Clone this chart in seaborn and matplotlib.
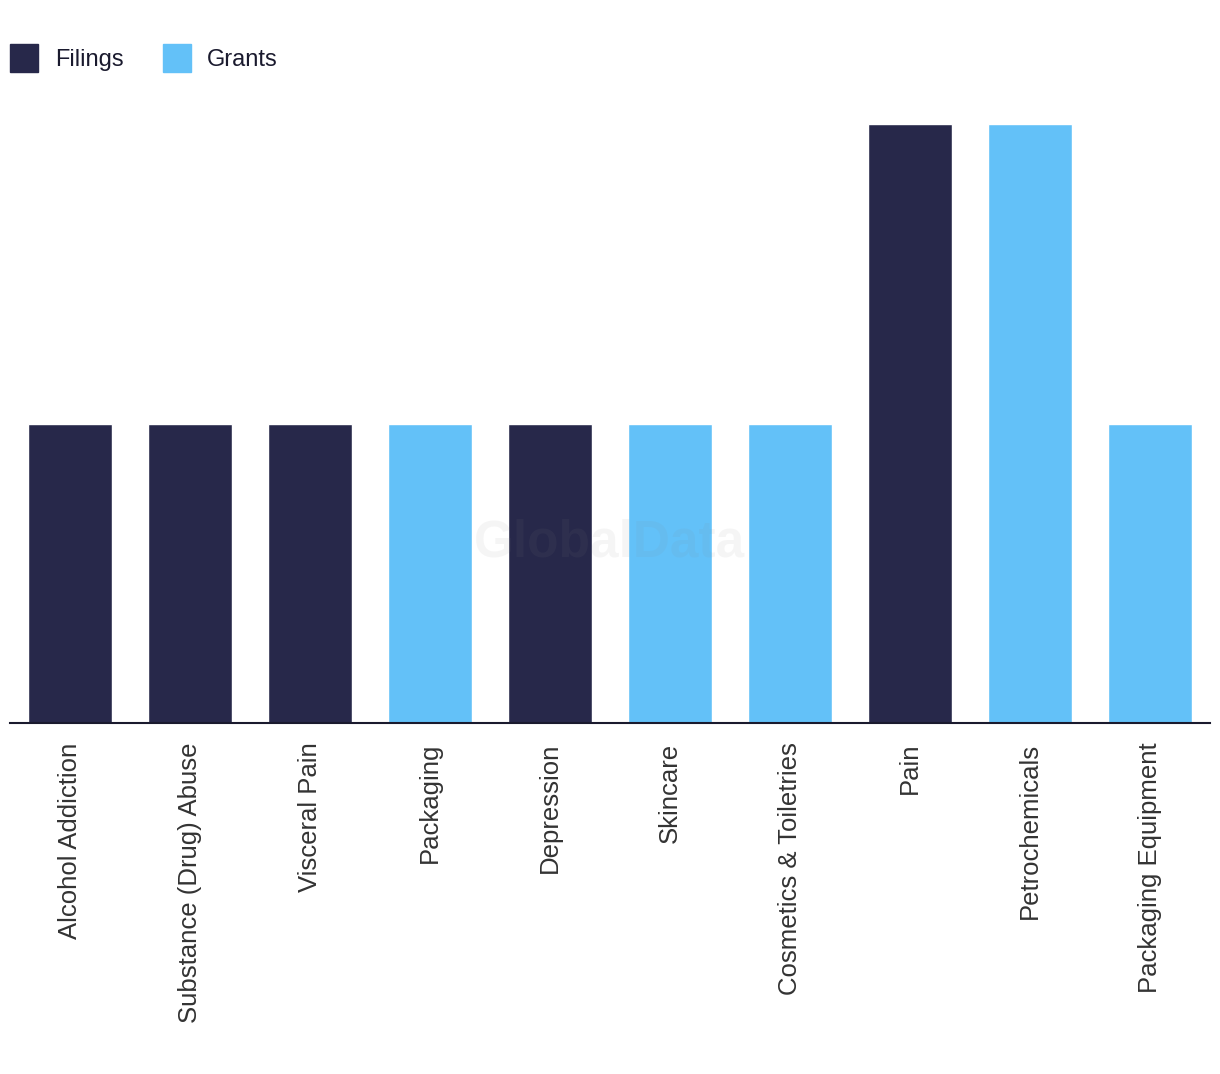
import pandas as pd
import matplotlib.pyplot as plt
import seaborn as sns
from matplotlib.lines import Line2D

# Data
categories = ['Alcohol Addiction', 'Substance (Drug) Abuse', 'Visceral Pain', 'Packaging',
              'Depression', 'Skincare', 'Cosmetics & Toiletries', 'Pain',
              'Petrochemicals', 'Packaging Equipment']
values = [1, 1, 1, 1, 1, 1, 1, 2, 2, 1]
types = ['Filings', 'Filings', 'Filings', 'Grants', 'Filings', 'Grants', 'Grants',
         'Filings', 'Grants', 'Grants']

df = pd.DataFrame({'Category': categories, 'Count': values, 'Type': types})
palette = {'Filings': '#27284a', 'Grants': '#63c1f8'}

sns.set_style('white')
plt.rcParams['font.family'] = ['Liberation Sans', 'DejaVu Sans']

fig = plt.figure(figsize=(12.2, 10.74), dpi=100)
ax = fig.add_axes([10 / 1220, (1074 - 723) / 1074, 1200 / 1220, (723 - 124) / 1074])

sns.barplot(data=df, x='Category', y='Count', hue='Type', hue_order=['Filings', 'Grants'],
            palette=palette, dodge=False, width=0.7, saturation=1, ax=ax, legend=False)

ax.set_xlim(-0.5, len(categories) - 0.5)
ax.set_ylim(0, 2)
ax.set_xlabel('')
ax.set_ylabel('')
ax.set_yticks([])
for s in ['top', 'right', 'left']:
    ax.spines[s].set_visible(False)
ax.spines['bottom'].set_color('#1a1a2e')
ax.spines['bottom'].set_linewidth(1.5)
ax.tick_params(axis='x', length=0, pad=14)
ax.set_xticks(range(len(categories)))
ax.set_xticklabels(categories, rotation=90, fontsize=18.5, color='#333333')

# Watermark
ax.text(0.5, 0.30, 'GlobalData', transform=ax.transAxes, ha='center', va='center',
        fontsize=37, fontweight='bold', color='#888888', alpha=0.08)

# Legend
handles = [Line2D([], [], marker='s', linestyle='', markersize=20,
                  color=palette[t], label=t) for t in ['Filings', 'Grants']]
fig.legend(handles=handles, loc='center left', bbox_to_anchor=(10 / 1220, 1 - 60 / 1074),
           ncol=2, frameon=False, fontsize=17, handlelength=1.2, handletextpad=0.7,
           columnspacing=1.65, borderaxespad=0, borderpad=0, labelcolor='#1a1a2e')

fig.savefig('out.png', dpi=100)
